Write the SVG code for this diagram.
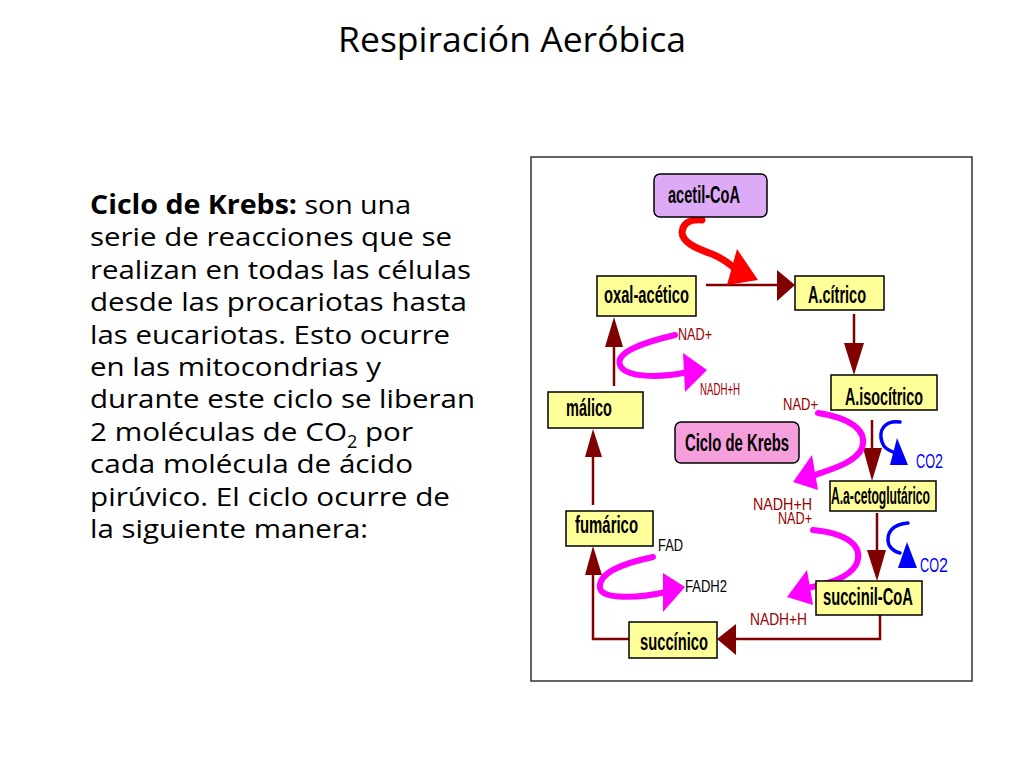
<svg xmlns="http://www.w3.org/2000/svg" width="1024" height="768" viewBox="0 0 1024 768">
<defs>
<style>
.body{font-family:"Open Sans","Liberation Sans",sans-serif;font-size:26px;fill:#000}
.node rect{stroke:#000;stroke-width:1.5}
.yel{fill:#FFFF99}
.nt{font-family:"Liberation Sans",Arial,sans-serif;font-weight:bold;font-size:23px;fill:#000}
.conn{fill:none;stroke:#800000;stroke-width:2.5}
.head{fill:#800000}
.mag{fill:none;stroke:#FF00FF;stroke-width:6;stroke-linecap:round}
.magh{fill:#FF00FF}
.blu{fill:none;stroke:#0000FF;stroke-width:3.5;stroke-linecap:round}
.bluh{fill:#0000FF}
.lab{font-family:"Liberation Sans",Arial,sans-serif;font-size:17px;fill:#990000}
.labk{font-family:"Liberation Sans",Arial,sans-serif;font-size:17px;fill:#000}
.co2{font-family:"Liberation Sans",Arial,sans-serif;font-size:21px;fill:#0000FF}
</style>
</defs>
<rect width="1024" height="768" fill="#fff"/>
<text x="512" y="52" text-anchor="middle" font-family="Open Sans, Liberation Sans, sans-serif" font-size="34" textLength="348" lengthAdjust="spacingAndGlyphs">Respiración Aeróbica</text>

<g id="body-text" class="body">
<text x="90" y="214" textLength="321" lengthAdjust="spacingAndGlyphs"><tspan font-weight="bold">Ciclo de Krebs:</tspan> son una</text>
<text x="90" y="246" textLength="362" lengthAdjust="spacingAndGlyphs">serie de reacciones que se</text>
<text x="90" y="279" textLength="381" lengthAdjust="spacingAndGlyphs">realizan en todas las células</text>
<text x="90" y="311" textLength="377" lengthAdjust="spacingAndGlyphs">desde las procariotas hasta</text>
<text x="90" y="344" textLength="360" lengthAdjust="spacingAndGlyphs">las eucariotas. Esto ocurre</text>
<text x="90" y="376" textLength="291" lengthAdjust="spacingAndGlyphs">en las mitocondrias y</text>
<text x="90" y="408" textLength="385" lengthAdjust="spacingAndGlyphs">durante este ciclo se liberan</text>
<text x="90" y="441" textLength="257" lengthAdjust="spacingAndGlyphs">2 moléculas de CO</text>
<text x="347" y="448" font-size="18">2</text>
<text x="365" y="441" textLength="48" lengthAdjust="spacingAndGlyphs">por</text>
<text x="90" y="473" textLength="323" lengthAdjust="spacingAndGlyphs">cada molécula de ácido</text>
<text x="90" y="506" textLength="360" lengthAdjust="spacingAndGlyphs">pirúvico. El ciclo ocurre de</text>
<text x="90" y="538" textLength="278" lengthAdjust="spacingAndGlyphs">la siguiente manera:</text>
</g>

<rect id="frame" x="531" y="157" width="441" height="524" fill="#fff" stroke="#333" stroke-width="1.5"/>

<g id="connectors">
<path class="conn" d="M706,285 H780"/>
<polygon class="head" points="777,270 795,285 777,301"/>
<path class="conn" d="M854,314 V346"/>
<polygon class="head" points="844,343 864,343 854,375"/>
<path class="conn" d="M614,386 V344"/>
<polygon class="head" points="605,347 623,347 614,317"/>
<path class="conn" d="M593,505 V455"/>
<polygon class="head" points="585,457 602,457 593,429"/>
<path class="conn" d="M629,639 H593 V573"/>
<polygon class="head" points="585,575 602,575 593,546"/>
<path class="conn" d="M880,615 V639 H733"/>
<polygon class="head" points="736,624 736,655 717,639"/>
<path class="conn" d="M872,420 V450"/>
<polygon class="head" points="863,448 882,448 872,481"/>
<path class="conn" d="M877,513 V552"/>
<polygon class="head" points="867,550 886,550 877,581"/>

<path d="M702,220 C692,219 683,222 682,232 C682,242 695,248 712,254 C722,258 730,264 738,271" fill="none" stroke="#FF0000" stroke-width="7" stroke-linecap="round"/>
<polygon points="737,249 758,280 727,285" fill="#FF0000"/>

<path class="mag" d="M675,335 C645,342 615,352 620,365 C625,378 660,378 688,372"/>
<polygon class="magh" points="683,353 707,370 685,392"/>
<path class="mag" d="M818,413 C850,418 868,430 862,448 C856,462 835,468 812,476"/>
<polygon class="magh" points="812,455 793,482 818,490"/>
<path class="mag" d="M813,530 C845,533 865,545 856,565 C848,578 830,583 808,588"/>
<polygon class="magh" points="807,570 787,597 813,605"/>
<path class="mag" d="M653,557 C625,563 598,572 600,588 C602,600 640,598 666,592"/>
<polygon class="magh" points="663,573 685,587 663,612"/>

<path class="blu" d="M900,422 C885,420 878,430 882,442 C884,448 888,450 893,452"/>
<polygon class="bluh" points="897,438 890,465 908,465"/>
<path class="blu" d="M908,523 C893,524 885,533 889,545 C892,550 896,552 900,553"/>
<polygon class="bluh" points="907,542 898,568 917,568"/>
</g>

<g id="labels">
<text class="lab" x="678" y="340" textLength="34" lengthAdjust="spacingAndGlyphs">NAD+</text>
<text class="lab" x="700" y="395" font-size="15" textLength="40" lengthAdjust="spacingAndGlyphs">NADH+H</text>
<text class="lab" x="783" y="410" textLength="35" lengthAdjust="spacingAndGlyphs">NAD+</text>
<text class="lab" x="753" y="510" font-size="18" textLength="59" lengthAdjust="spacingAndGlyphs">NADH+H</text>
<text class="lab" x="778" y="524" font-size="16" textLength="34" lengthAdjust="spacingAndGlyphs">NAD+</text>
<text class="lab" x="750" y="625" font-size="18" textLength="57" lengthAdjust="spacingAndGlyphs">NADH+H</text>
<text class="labk" x="658" y="551" textLength="25" lengthAdjust="spacingAndGlyphs">FAD</text>
<text class="labk" x="685" y="592" textLength="42" lengthAdjust="spacingAndGlyphs">FADH2</text>
<text class="co2" x="916" y="468" textLength="19" lengthAdjust="spacingAndGlyphs">CO</text>
<text class="co2" x="935" y="468" font-size="17" textLength="8" lengthAdjust="spacingAndGlyphs">2</text>
<text class="co2" x="920" y="572" textLength="19" lengthAdjust="spacingAndGlyphs">CO</text>
<text class="co2" x="939" y="572" font-size="17" textLength="9" lengthAdjust="spacingAndGlyphs">2</text>
</g>

<g id="acetil-CoA" class="node"><rect x="654" y="174" width="113" height="43" rx="6" fill="#DDAAF5"/><text class="nt" x="668" y="203" textLength="72" lengthAdjust="spacingAndGlyphs">acetil-CoA</text></g>
<g id="oxal-acetico" class="node"><rect class="yel" x="597" y="276" width="99" height="40"/><text class="nt" x="604" y="303" textLength="85" lengthAdjust="spacingAndGlyphs">oxal-acético</text></g>
<g id="A-citrico" class="node"><rect class="yel" x="795" y="276" width="89" height="34"/><text class="nt" x="808" y="303" textLength="58" lengthAdjust="spacingAndGlyphs">A.cítrico</text></g>
<g id="A-isocitrico" class="node"><rect class="yel" x="831" y="375" width="106" height="35"/><text class="nt" x="845" y="405" textLength="78" lengthAdjust="spacingAndGlyphs">A.isocítrico</text></g>
<g id="malico" class="node"><rect class="yel" x="548" y="392" width="95" height="36"/><text class="nt" x="566" y="416" textLength="46" lengthAdjust="spacingAndGlyphs">málico</text></g>
<g id="ciclo-de-krebs" class="node"><rect x="675" y="422" width="124" height="41" rx="6" fill="#F5A0DC"/><text class="nt" x="685" y="451" textLength="104" lengthAdjust="spacingAndGlyphs">Ciclo de Krebs</text></g>
<g id="A-a-cetoglutarico" class="node"><rect class="yel" x="830" y="481" width="106" height="30"/><text class="nt" x="831" y="504" font-size="21" textLength="99" lengthAdjust="spacingAndGlyphs">A.a-cetoglutárico</text></g>
<g id="fumarico" class="node"><rect class="yel" x="566" y="511" width="87" height="35"/><text class="nt" x="575" y="533" textLength="63" lengthAdjust="spacingAndGlyphs">fumárico</text></g>
<g id="succinil-CoA" class="node"><rect class="yel" x="816" y="581" width="106" height="34"/><text class="nt" x="823" y="605" textLength="90" lengthAdjust="spacingAndGlyphs">succinil-CoA</text></g>
<g id="succinico" class="node"><rect class="yel" x="629" y="622" width="88" height="36"/><text class="nt" x="640" y="650" textLength="68" lengthAdjust="spacingAndGlyphs">succínico</text></g>
</svg>
